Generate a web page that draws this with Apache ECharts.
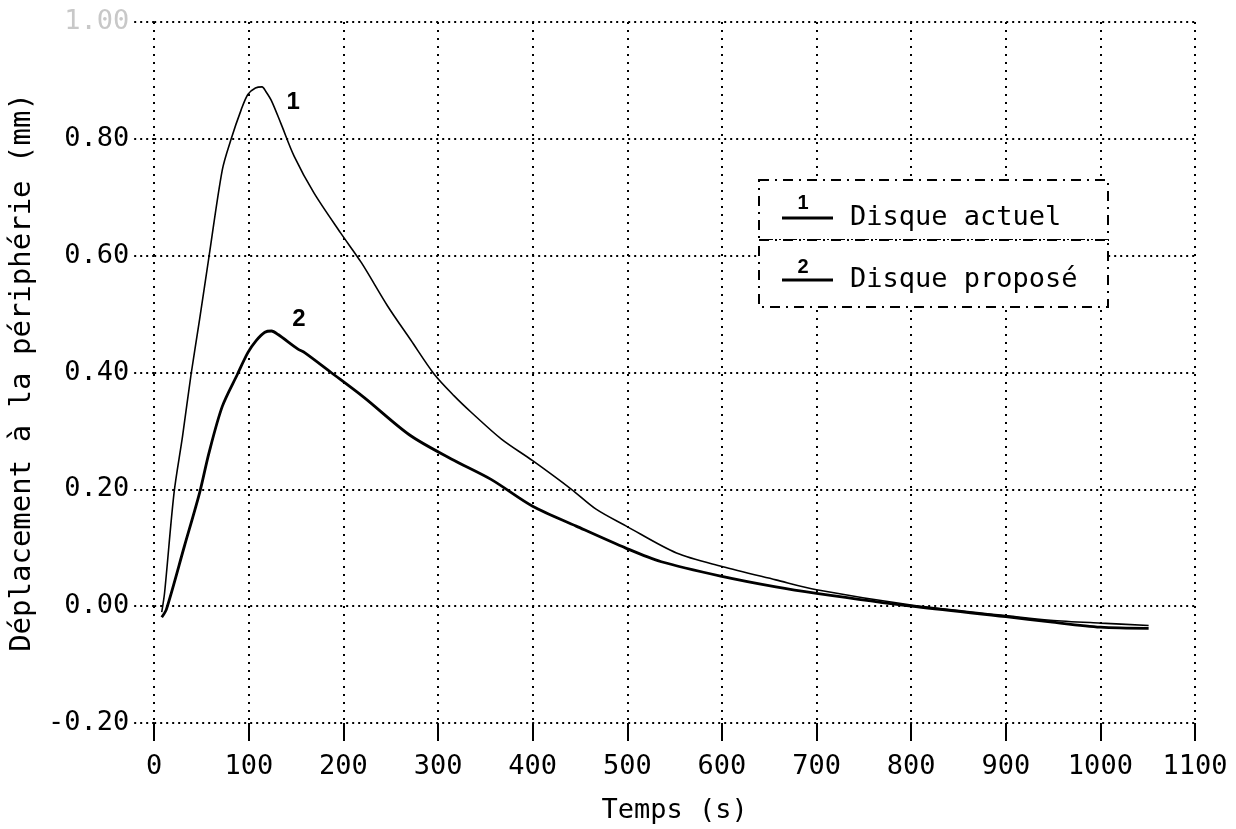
<!DOCTYPE html>
<html>
<head>
<meta charset="utf-8">
<script src="https://cdn.jsdelivr.net/npm/echarts@6/dist/echarts.min.js"></script>
<style>
  html, body { margin: 0; padding: 0; background: #fff; }
  #main { width: 1236px; height: 829px; }
</style>
</head>
<body>
<div id="main"></div>
<script>
// courbe 1 : disque actuel
let tempsActuel = [8, 11, 21, 30, 39, 48, 58, 72, 81, 92, 99, 107, 114, 118, 124, 134, 148, 169, 197, 219, 247, 271, 296, 317, 335, 367, 400, 441, 467, 499, 552, 600, 657, 700, 800, 900, 947, 1000, 1051];
let deplActuel = [-0.01, 0.023, 0.194, 0.291, 0.397, 0.491, 0.599, 0.747, 0.798, 0.85, 0.876, 0.887, 0.889, 0.881, 0.865, 0.826, 0.77, 0.707, 0.639, 0.588, 0.513, 0.456, 0.397, 0.36, 0.332, 0.286, 0.249, 0.20, 0.166, 0.137, 0.091, 0.068, 0.045, 0.028, 0.002, -0.016, -0.024, -0.029, -0.033];
// courbe 2 : disque propose
let tempsPropose = [8, 13, 32, 48, 58, 72, 88, 99, 108, 117, 124, 131, 152, 159, 187, 222, 270, 314, 356, 400, 446, 499, 536, 600, 657, 700, 800, 900, 947, 1000, 1051];
let deplPropose = [-0.019, -0.005, 0.103, 0.194, 0.263, 0.342, 0.397, 0.434, 0.455, 0.469, 0.471, 0.465, 0.44, 0.434, 0.40, 0.357, 0.293, 0.252, 0.217, 0.171, 0.137, 0.099, 0.076, 0.051, 0.033, 0.022, 0.0, -0.018, -0.027, -0.036, -0.038];
let xTicks = [0, 1100, 100];
let yTicks = [-0.2, 1.0, 0.2];
let nomsSeries = ["Disque actuel", "Disque proposé"];

let police = "DejaVu Sans Mono";

function paires(xs, ys) {
    return xs.map((x, i) => [x, ys[i]]);
}

let dom = document.getElementById("main");
let myChart = echarts.init(dom, null, { renderer: "canvas" });

let option = {
    animation: false,
    backgroundColor: "#fff",
    grid: { left: 153, right: 41, top: 22, bottom: 105 },
    xAxis: {
        type: "value",
        min: xTicks[0],
        max: xTicks[1],
        interval: xTicks[2],
        name: "Temps (s)",
        nameLocation: "middle",
        nameGap: 74,
        nameTextStyle: { fontFamily: police, fontSize: 27, color: "#000" },
        axisLine: { show: false, onZero: false },
        axisTick: { show: true, length: 18, lineStyle: { color: "#000", width: 2 } },
        axisLabel: {
            fontFamily: police,
            fontSize: 27,
            color: "#000",
            margin: 30,
            formatter: function (v) { return String(v); },
        },
        splitLine: { show: true, lineStyle: { color: "#000", width: 2, type: [2, 6] } },
    },
    yAxis: {
        type: "value",
        min: yTicks[0],
        max: yTicks[1],
        interval: yTicks[2],
        name: "Déplacement à la périphérie (mm)",
        nameLocation: "middle",
        nameGap: 116,
        nameTextStyle: { fontFamily: police, fontSize: 29, color: "#000" },
        axisLine: { show: false, onZero: false },
        axisTick: { show: true, length: 20, lineStyle: { color: "#000", width: 2, type: [2, 4] } },
        axisLabel: {
            fontFamily: police,
            fontSize: 27,
            color: "#000",
            margin: 25,
            formatter: function (v) {
                if (v > 0.99) return "{f|1.00}";
                return v.toFixed(2);
            },
            rich: { f: { fontFamily: police, fontSize: 27, color: "#c8c8c8" } },
        },
        splitLine: { show: true, lineStyle: { color: "#000", width: 2, type: [2, 4] } },
    },
    legend: {
        orient: "vertical",
        left: 777,
        top: 198,
        z: 6,
        itemGap: 32,
        itemWidth: 51,
        itemHeight: 3,
        icon: "rect",
        data: nomsSeries,
        textStyle: { fontFamily: police, fontSize: 27, color: "#000", lineHeight: 30, padding: [0, 0, 0, 12] },
    },
    graphic: [
        {
            type: "rect",
            z: 3,
            shape: { x: 759, y: 180, width: 349, height: 60 },
            style: { fill: "#fff", stroke: "#000", lineWidth: 2, lineDash: [10, 6, 2, 6] },
        },
        {
            type: "rect",
            z: 3,
            shape: { x: 759, y: 240, width: 349, height: 67 },
            style: { fill: "#fff", stroke: "#000", lineWidth: 2, lineDash: [10, 6, 2, 6] },
        },
        {
            type: "text",
            z: 7,
            style: { text: "1", x: 803, y: 203, align: "center", verticalAlign: "middle", font: "bold 20px 'Liberation Sans'", fill: "#000" },
        },
        {
            type: "text",
            z: 7,
            style: { text: "2", x: 803, y: 267, align: "center", verticalAlign: "middle", font: "bold 20px 'Liberation Sans'", fill: "#000" },
        },
    ],
    series: [
        {
            name: nomsSeries[0],
            type: "line",
            data: paires(tempsActuel, deplActuel),
            showSymbol: false,
            smooth: 0.3,
            color: "#000",
            lineStyle: { color: "#000", width: 1.6 },
            markPoint: {
                symbol: "circle",
                symbolSize: 0,
                label: { show: true, formatter: "1", fontFamily: "Liberation Sans", fontWeight: "bold", fontSize: 24, color: "#000" },
                data: [{ coord: [147, 0.862] }],
            },
        },
        {
            name: nomsSeries[1],
            type: "line",
            data: paires(tempsPropose, deplPropose),
            showSymbol: false,
            smooth: 0.3,
            color: "#000",
            lineStyle: { color: "#000", width: 2.8 },
            markPoint: {
                symbol: "circle",
                symbolSize: 0,
                label: { show: true, formatter: "2", fontFamily: "Liberation Sans", fontWeight: "bold", fontSize: 24, color: "#000" },
                data: [{ coord: [153, 0.491] }],
            },
        },
    ],
};

myChart.setOption(option);
window.addEventListener("resize", myChart.resize);
</script>
</body>
</html>
